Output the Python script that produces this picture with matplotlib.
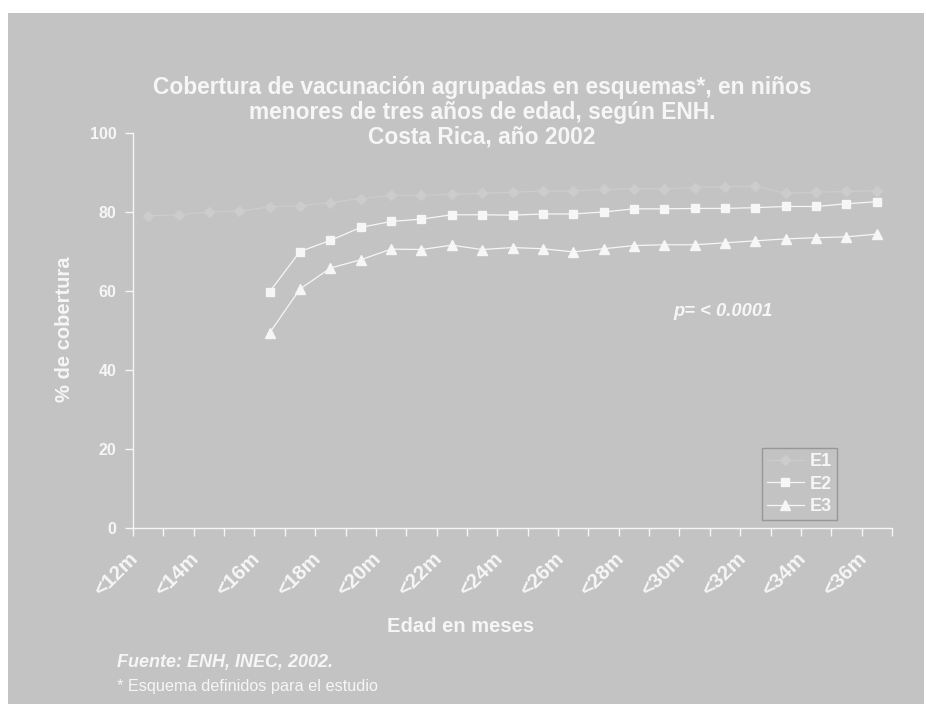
import matplotlib
matplotlib.use("Agg")
import matplotlib.pyplot as plt
import matplotlib.transforms as mtransforms
from matplotlib.patches import Rectangle
import numpy as np

plt.rcParams['font.family'] = ['Liberation Sans', 'DejaVu Sans']

# ---- data ----
categories = ["<%dm" % m for m in range(12, 37)]   # 25 monthly categories
tick_labels = ["<%dm" % m for m in range(12, 37, 2)]

e1 = [79.0, 79.3, 80.0, 80.2, 81.3, 81.6, 82.4, 83.4, 84.2, 84.2, 84.5, 84.7, 85.0,
      85.3, 85.3, 85.7, 85.9, 85.9, 86.2, 86.4, 86.6, 84.7, 85.0, 85.2, 85.4]
e2 = [None, None, None, None, 59.8, 70.0, 72.8, 76.1, 77.6, 78.2, 79.3, 79.3, 79.2,
      79.5, 79.5, 80.0, 80.8, 80.8, 80.9, 80.9, 81.1, 81.4, 81.4, 82.1, 82.6]
e3 = [None, None, None, None, 49.4, 60.5, 65.8, 67.9, 70.6, 70.5, 71.6, 70.5, 71.0,
      70.7, 69.9, 70.7, 71.5, 71.7, 71.7, 72.2, 72.7, 73.2, 73.5, 73.7, 74.4]

title = "Cobertura de vacunación agrupadas en esquemas*, en niños\nmenores de tres años de edad, según ENH.\nCosta Rica, año 2002"

BG = '#C3C3C3'
FG = '#F6F6F6'
E1C = '#CCCCCC'

W, H = 926, 704
fig = plt.figure(figsize=(W / 100, H / 100), dpi=100)
fig.patch.set_facecolor('white')
fig.patches.append(Rectangle((8 / W, 0), (924 - 8) / W, (H - 13) / H,
                             transform=fig.transFigure, facecolor=BG,
                             edgecolor='none', zorder=-10))

ax = fig.add_axes([133 / W, (H - 528) / H, (892 - 133) / W, (528 - 133) / H])
ax.set_facecolor('none')

x = np.arange(len(categories))

def arr(v):
    return np.array([np.nan if a is None else a for a in v], dtype=float)

ax.plot(x, arr(e1), color=E1C, lw=0.9, marker='D', ms=5.5, mfc=E1C, mec=E1C, label='E1')
ax.plot(x, arr(e2), color=FG, lw=0.9, marker='s', ms=6, mfc=FG, mec=FG, label='E2')
ax.plot(x, arr(e3), color=FG, lw=0.9, marker='^', ms=7, mfc=FG, mec=FG, label='E3')

ax.set_xlim(-0.5, len(categories) - 0.5)
ax.set_ylim(0, 100)

for s in ['top', 'right']:
    ax.spines[s].set_visible(False)
for s in ['left', 'bottom']:
    ax.spines[s].set_color(FG)
    ax.spines[s].set_linewidth(1.0)

ax.set_yticks(np.arange(0, 101, 20))
ax.tick_params(axis='y', direction='out', length=6, width=1, color=FG,
               labelcolor=FG, labelsize=11.5, pad=6)
for t in ax.get_yticklabels():
    t.set_fontweight('bold')

# boundaries ticks (minor), labels at every other category (major)
ax.set_xticks(np.arange(-0.5, len(categories), 1.0), minor=True)
ax.set_xticks(x[::2])
ax.set_xticklabels(tick_labels, rotation=45, ha='right', va='center',
                   rotation_mode='anchor', fontsize=14.8, fontweight='bold', color=FG)
ax.tick_params(axis='x', which='minor', direction='out', length=6, width=1, color=FG)
ax.tick_params(axis='x', which='major', length=0, pad=20)
offset = mtransforms.ScaledTranslation(-13 / 100, 0, fig.dpi_scale_trans)
for t in ax.get_xticklabels():
    t.set_transform(t.get_transform() + offset)

fig.text(482 / W, 1 - 112 / H, title, ha='center', va='center', fontsize=16.4,
         fontweight='bold', color=FG, linespacing=1.09)

fig.text(65 / W, 1 - 329 / H, '% de cobertura', rotation=90, ha='center', va='center',
         fontsize=14.5, fontweight='bold', color=FG)
fig.text(461 / W, 1 - 627 / H, 'Edad en meses', ha='center', va='center',
         fontsize=14.5, fontweight='bold', color=FG)

fig.text(723 / W, 1 - 311 / H, 'p= < 0.0001', ha='center', va='center',
         fontsize=13.2, fontweight='bold', fontstyle='italic', color=FG)

fig.text(117 / W, 1 - 663 / H, 'Fuente: ENH, INEC, 2002.', ha='left', va='center',
         fontsize=13, fontweight='bold', fontstyle='italic', color=FG)
fig.text(117 / W, 1 - 687 / H, '* Esquema definidos para el estudio', ha='left',
         va='center', fontsize=11.7, color=FG)

leg = ax.legend(loc='lower right', bbox_to_anchor=(837 / W, (H - 520) / H),
                bbox_transform=fig.transFigure, frameon=True, fancybox=False,
                fontsize=13, handlelength=2.0, borderpad=0.28, labelspacing=0.3,
                handletextpad=0.35, borderaxespad=0)
leg.get_frame().set_facecolor(BG)
leg.get_frame().set_edgecolor('#8C8C8C')
leg.get_frame().set_linewidth(1.0)
for t in leg.get_texts():
    t.set_color(FG)
    t.set_fontweight('bold')

fig.savefig('out.png', dpi=100, facecolor=fig.get_facecolor())
